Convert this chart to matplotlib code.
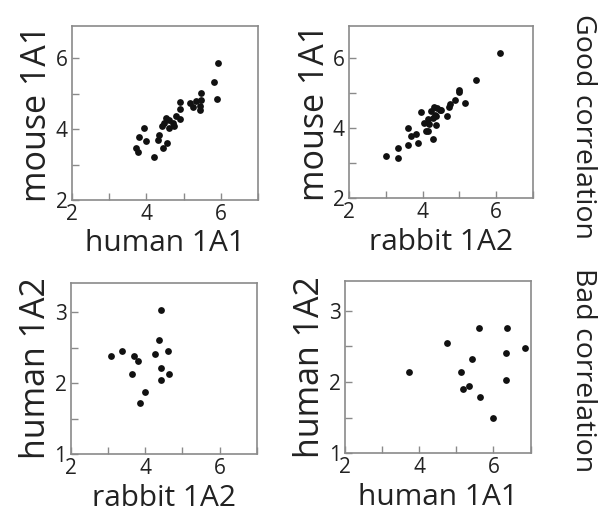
import matplotlib
matplotlib.use("Agg")
import matplotlib.pyplot as plt
from matplotlib.ticker import MultipleLocator

plt.rcParams['font.family'] = ['Open Sans', 'DejaVu Sans']

############################################
## Data
############################################

# top left: human 1A1 vs mouse 1A1
tl_x = [5.93, 5.82, 5.89, 5.47, 5.47, 5.45, 5.45, 5.34, 5.25, 5.16, 4.89, 4.89, 4.89, 4.80, 4.71,
        4.62, 4.53, 4.62, 4.48, 4.41, 4.56, 4.44, 4.35, 4.30, 4.21, 3.94, 3.99, 3.81, 3.72, 3.78, 4.75]
tl_y = [5.87, 5.32, 4.86, 5.02, 4.83, 4.66, 4.53, 4.78, 4.62, 4.74, 4.75, 4.57, 4.28, 4.36, 4.17,
        4.03, 4.31, 4.26, 4.17, 4.08, 3.60, 3.46, 3.84, 3.70, 3.21, 4.03, 3.65, 3.77, 3.48, 3.34, 4.08]

# top right: rabbit 1A2 vs mouse 1A1
tr_x = [6.09, 5.44, 5.00, 5.00, 5.15, 4.89, 4.73, 4.71, 4.67, 4.51, 4.39, 4.30, 4.24, 4.37, 4.28, 4.35, 4.14,
        4.17, 4.03, 3.96, 4.08, 4.14, 4.28, 3.83, 3.67, 3.60, 3.60, 3.87, 3.34, 3.34, 2.99, 4.46, 4.33]
tr_y = [6.13, 5.38, 5.08, 5.02, 4.72, 4.81, 4.69, 4.59, 4.33, 4.52, 4.58, 4.59, 4.48, 4.33, 4.29, 4.10, 4.26,
        4.12, 4.14, 4.47, 3.93, 3.93, 3.70, 3.84, 3.77, 4.01, 3.53, 3.58, 3.44, 3.14, 3.21, 4.50, 4.36]

# bottom left: rabbit 1A2 vs human 1A2
bl_x = [4.43, 4.38, 3.08, 3.38, 3.71, 3.82, 3.66, 3.99, 3.87, 4.27, 4.61, 4.43, 4.64, 4.44]
bl_y = [3.04, 2.61, 2.38, 2.45, 2.38, 2.31, 2.13, 1.88, 1.73, 2.41, 2.46, 2.21, 2.13, 2.05]

# bottom right: human 1A1 vs human 1A2
br_x = [3.72, 4.76, 5.62, 6.36, 6.84, 6.33, 5.43, 5.14, 5.35, 5.19, 5.65, 6.34, 5.99]
br_y = [2.14, 2.54, 2.75, 2.75, 2.47, 2.40, 2.32, 2.14, 1.95, 1.90, 1.79, 2.03, 1.50]

panels = [
    (tl_x, tl_y, "human 1A1", "mouse 1A1", (2, 6.9), [0.1185, 0.613, 0.3085, 0.3366]),
    (tr_x, tr_y, "rabbit 1A2", "mouse 1A1", (2, 6.9), [0.577, 0.6164, 0.304, 0.333]),
    (bl_x, bl_y, "rabbit 1A2", "human 1A2", (1, 3.42), [0.1169, 0.1213, 0.3074, 0.332]),
    (br_x, br_y, "human 1A1", "human 1A2", (1, 3.42), [0.570, 0.1232, 0.307, 0.334]),
]

############################################
## Plot
############################################

fig = plt.figure(figsize=(6.05, 5.17), dpi=100)

for x, y, xlabel, ylabel, ylim, pos in panels:
    ax = fig.add_axes(pos)
    ax.scatter(x, y, s=24, color="#111111", linewidths=0)
    ax.set_xlim(2, 7)
    ax.set_ylim(*ylim)
    ax.xaxis.set_major_locator(MultipleLocator(2))
    ax.xaxis.set_minor_locator(MultipleLocator(1))
    if ylim[0] == 2:
        ax.yaxis.set_major_locator(MultipleLocator(2))
        ax.yaxis.set_minor_locator(MultipleLocator(1))
    else:
        ax.yaxis.set_major_locator(MultipleLocator(1))
        ax.yaxis.set_minor_locator(MultipleLocator(0.5))
    for spine in ax.spines.values():
        spine.set_color("#8a8a8a")
        spine.set_linewidth(1.2)
    ax.tick_params(which="both", direction="in", color="#8a8a8a", width=1.0, length=5,
                   top=False, right=False, labelsize=15, labelcolor="#222222", pad=3)
    ax.set_xlabel(xlabel, fontsize=21.5, color="#222222", labelpad=3)
    ax.set_ylabel(ylabel, fontsize=24.5, color="#222222", labelpad=1)

fig.text(0.964, 0.755, "Good correlation", rotation=270, fontsize=20.5, color="#222222",
         ha="center", va="center")
fig.text(0.964, 0.284, "Bad correlation", rotation=270, fontsize=20.5, color="#222222",
         ha="center", va="center")

plt.savefig("out.png", dpi=100)
plt.close()
